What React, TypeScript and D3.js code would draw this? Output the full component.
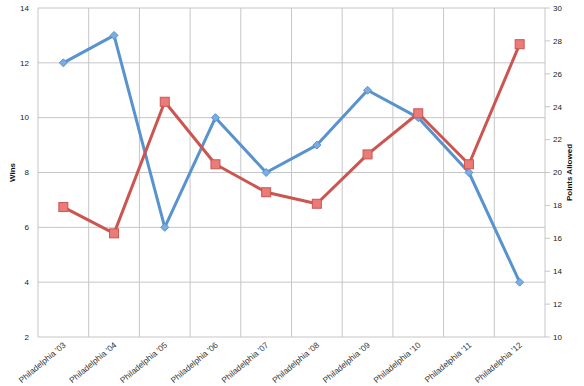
import React from 'react';
import * as d3 from 'd3';

// chart values
const seasons = ["Philadelphia '03", "Philadelphia '04", "Philadelphia '05", "Philadelphia '06", "Philadelphia '07",
  "Philadelphia '08", "Philadelphia '09", "Philadelphia '10", "Philadelphia '11", "Philadelphia '12"];
const wins = [12, 13, 6, 10, 8, 9, 11, 10, 8, 4];
const pointsAllowed = [17.9, 16.3, 24.3, 20.5, 18.8, 18.1, 21.1, 23.6, 20.5, 27.8];
const winTicks = [2, 4, 6, 8, 10, 12, 14];
const pointTicks = [10, 12, 14, 16, 18, 20, 22, 24, 26, 28, 30];

const W = 584;
const H = 386;
const margin = { top: 8, right: 39, bottom: 49, left: 38 };
const font = '"Liberation Sans", Arial, sans-serif';

const App = () => {
  const innerW = W - margin.left - margin.right;
  const innerH = H - margin.top - margin.bottom;

  const x = d3.scaleBand().domain(seasons).range([0, innerW]);
  const yWins = d3.scaleLinear().domain([2, 14]).range([innerH, 0]);
  const yPts = d3.scaleLinear().domain([10, 30]).range([innerH, 0]);
  const cx = (s) => x(s) + x.bandwidth() / 2;

  const winsLine = d3.line().x((d, i) => cx(seasons[i])).y(d => yWins(d));
  const ptsLine = d3.line().x((d, i) => cx(seasons[i])).y(d => yPts(d));

  const grid = '#c6c6c6';
  const blue = '#5892cf';
  const red = '#cc5551';

  return (
    <svg width={W} height={H} style={{ position: 'absolute', left: 0, top: 0, background: '#fff' }}>
      <g transform={`translate(${margin.left},${margin.top})`}>
        {/* horizontal gridlines */}
        {winTicks.map(t => (
          <line key={'h' + t} x1={0} x2={innerW} y1={yWins(t)} y2={yWins(t)} stroke={grid} strokeWidth={1} />
        ))}
        {/* vertical gridlines at category boundaries */}
        {seasons.map((s, i) => (
          <line key={'v' + i} x1={x(s)} x2={x(s)} y1={0} y2={innerH} stroke={grid} strokeWidth={1} />
        ))}
        <line x1={innerW} x2={innerW} y1={0} y2={innerH} stroke={grid} />
        {/* right axis tick marks */}
        {pointTicks.map(t => (
          <line key={'rt' + t} x1={innerW} x2={innerW + 5} y1={yPts(t)} y2={yPts(t)} stroke={grid} />
        ))}

        {/* left tick labels */}
        {winTicks.map(t => (
          <text key={'lt' + t} x={-9} y={yWins(t)} dy="0.35em" textAnchor="end" fontSize={8} fontFamily={font} fill="#222">{t}</text>
        ))}
        {/* right tick labels */}
        {pointTicks.map(t => (
          <text key={'rl' + t} x={innerW + 8} y={yPts(t)} dy="0.35em" textAnchor="start" fontSize={8} fontFamily={font} fill="#222">{t}</text>
        ))}

        {/* category labels */}
        {seasons.map(s => (
          <text key={'c' + s} transform={`translate(${cx(s) + 3},${innerH + 9}) rotate(-40)`} textAnchor="end"
            fontSize={8.3} fontFamily={font} fill="#333">{s}</text>
        ))}

        {/* axis titles */}
        <text transform={`translate(${15 - margin.left},${innerH / 2}) rotate(-90)`} textAnchor="middle"
          fontSize={8} fontWeight="bold" fontFamily={font} fill="#111">Wins</text>
        <text transform={`translate(${572 - margin.left},${innerH / 2}) rotate(-90)`} textAnchor="middle"
          fontSize={8} fontWeight="bold" fontFamily={font} fill="#111">Points Allowed</text>

        {/* wins series */}
        <path d={winsLine(wins)} fill="none" stroke={blue} strokeWidth={3} strokeLinejoin="round" />
        {wins.map((v, i) => {
          const px = cx(seasons[i]);
          const py = yWins(v);
          const r = 4;
          return (
            <path key={'d' + i} d={`M${px},${py - r}L${px + r},${py}L${px},${py + r}L${px - r},${py}Z`}
              fill="#7aaee2" stroke={blue} strokeWidth={1} />
          );
        })}

        {/* points allowed series */}
        <path d={ptsLine(pointsAllowed)} fill="none" stroke={red} strokeWidth={3} strokeLinejoin="round" />
        {pointsAllowed.map((v, i) => (
          <rect key={'s' + i} x={cx(seasons[i]) - 4.5} y={yPts(v) - 4.5} width={9} height={9}
            fill="#ea7b78" stroke={red} strokeWidth={1} />
        ))}
      </g>
    </svg>
  );
};

export default App;
